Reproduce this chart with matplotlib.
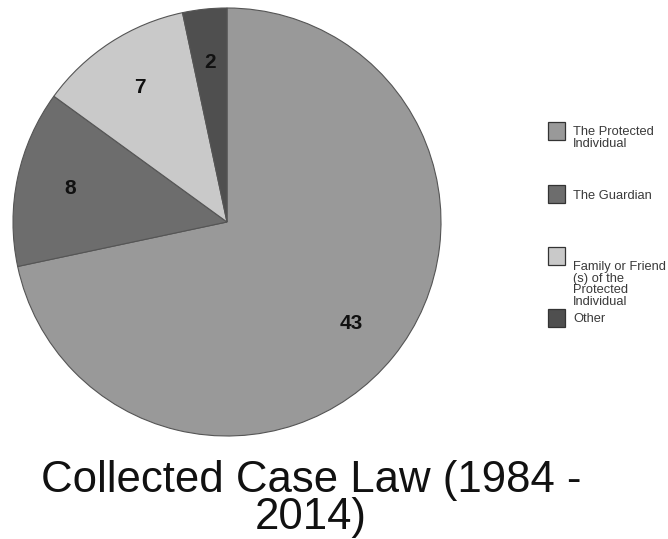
import matplotlib
matplotlib.use("Agg")
import matplotlib.pyplot as plt
from matplotlib.patches import Rectangle

categories = ["The Protected\nIndividual", "The Guardian",
              "Family or Friend\n(s) of the\nProtected\nIndividual", "Other"]
values = [43, 8, 7, 2]
colors = ["#999999", "#6d6d6d", "#c9c9c9", "#4f4f4f"]
title = "Collected Case Law (1984 -\n2014)"

W, H = 668, 539
fig = plt.figure(figsize=(W / 100, H / 100), dpi=100)
fig.patch.set_facecolor("white")

cx, cy, r = 227, 222, 214
ax = fig.add_axes([(cx - r) / W, (H - cy - r) / H, 2 * r / W, 2 * r / H])
wedges, texts = ax.pie(values, colors=colors, startangle=90, counterclock=False,
                       labels=[str(v) for v in values], labeldistance=0.75,
                       wedgeprops=dict(edgecolor="#555555", linewidth=0.8),
                       textprops=dict(fontsize=15, fontweight="bold", color="#111111",
                                      family="Liberation Sans"))
for t in texts:
    t.set_ha("center")
    t.set_va("center")
ax.set_xlim(-1.0, 1.0)
ax.set_ylim(-1.0, 1.0)
ax.set_aspect("equal")
ax.axis("off")

fig.text(311 / W, 1 - 499 / H, title, ha="center", va="center", fontsize=31.5,
         family="Liberation Sans", color="#111111", linespacing=0.9)

# legend
sq_tops = [122, 185, 247, 309]
txt_tops = [126, 190, 261, 313]
for w, lab, st, tt in zip(wedges, categories, sq_tops, txt_tops):
    fig.patches.append(Rectangle((548 / W, 1 - (st + 18) / H), 17 / W, 18 / H,
                                 transform=fig.transFigure, facecolor=w.get_facecolor(),
                                 edgecolor="#333333", linewidth=0.9))
    fig.text(573 / W, 1 - tt / H, lab, ha="left", va="top", fontsize=9.3,
             family="Liberation Sans", color="#3a3a3a", linespacing=0.95)

fig.savefig("out.png", dpi=100, facecolor="white")
